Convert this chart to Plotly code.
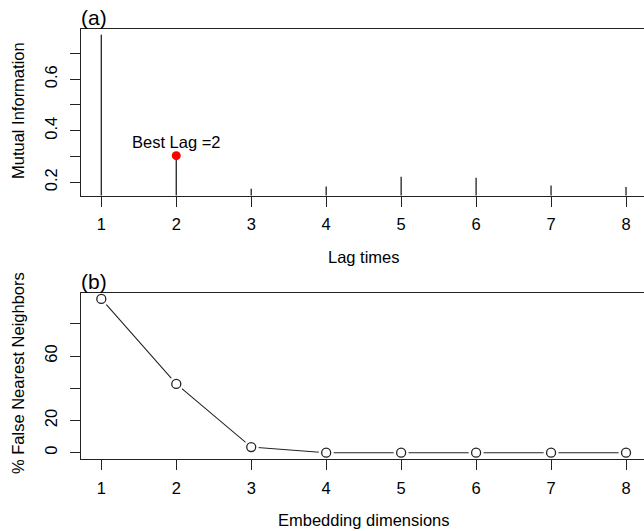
import plotly.graph_objects as go

# Panel (a): average mutual information by lag
lags = [1, 2, 3, 4, 5, 6, 7, 8]
mutual_info = [0.7725, 0.303, 0.1745, 0.183, 0.221, 0.217, 0.187, 0.181]
best_lag = 2

# Panel (b): false nearest neighbours by embedding dimension
dims = [1, 2, 3, 4, 5, 6, 7, 8]
fnn_pct = [95.4, 42.7, 3.5, 0.0, 0.0, 0.0, 0.0, 0.0]

mi_tickvals = [0.2, 0.3, 0.4, 0.5, 0.6, 0.7]
mi_ticktext = ["0.2", "", "0.4", "", "0.6", ""]
fnn_tickvals = [0, 20, 40, 60, 80]
fnn_ticktext = ["0", "20", "", "60", ""]
x_tickvals = [1, 2, 3, 4, 5, 6, 7, 8]

FONT = "Liberation Sans, Arial, sans-serif"
FS = 16.5
INK = "#222222"
W, H = 644, 531

# h-type stems from zero up to each value (clipped by the plot area)
stem_x, stem_y = [], []
for lag, v in zip(lags, mutual_info):
    stem_x += [lag, lag, None]
    stem_y += [0, v, None]

best_val = mutual_info[lags.index(best_lag)]

fig = go.Figure()
fig.add_trace(go.Scatter(x=stem_x, y=stem_y, mode="lines",
                         line=dict(color=INK, width=1.3),
                         xaxis="x", yaxis="y", hoverinfo="skip"))
fig.add_trace(go.Scatter(x=[best_lag], y=[best_val], mode="markers",
                         marker=dict(color="#ff0000", size=9, line=dict(width=0)),
                         xaxis="x", yaxis="y"))

# b-type line: segments with gaps around the open circles
fig.add_trace(go.Scatter(x=dims, y=fnn_pct, mode="lines",
                         line=dict(color=INK, width=1.1),
                         xaxis="x2", yaxis="y2", hoverinfo="skip"))
fig.add_trace(go.Scatter(x=dims, y=fnn_pct, mode="markers",
                         marker=dict(color="white", size=15, line=dict(width=0)),
                         xaxis="x2", yaxis="y2", hoverinfo="skip"))
fig.add_trace(go.Scatter(x=dims, y=fnn_pct, mode="markers",
                         marker=dict(symbol="circle-open", color=INK, size=9,
                                     line=dict(width=1.3)),
                         xaxis="x2", yaxis="y2"))

left_px, right_px = 81, 644
px_per_unit = 74.96
x0 = 1 - (101.3 - left_px) / px_per_unit
x1 = x0 + (right_px - left_px) / px_per_unit


def ydom(top_px, bot_px):
    return [(H - bot_px) / H, (H - top_px) / H]


common_x = dict(range=[x0, x1], tickvals=x_tickvals, ticks="outside", ticklen=10,
                tickwidth=1.1, tickcolor=INK, showline=True, linecolor=INK,
                linewidth=1.1, mirror=True, showgrid=False, zeroline=False,
                tickfont=dict(family=FONT, size=FS, color="black"),
                ticklabelstandoff=4)
common_y = dict(ticks="outside", ticklen=10, tickwidth=1.1, tickcolor=INK,
                showline=True, linecolor=INK, linewidth=1.1, mirror=False,
                showgrid=False, zeroline=False, tickangle=-90,
                tickfont=dict(family=FONT, size=FS, color="black"),
                ticklabelstandoff=6)

top_dom = ydom(29, 195.5)
bot_dom = ydom(293, 459.3)

fig.update_layout(
    width=W, height=H, margin=dict(l=left_px, r=0, t=0, b=0),
    paper_bgcolor="white", plot_bgcolor="white", showlegend=False,
    xaxis=dict(common_x, anchor="y"),
    yaxis=dict(common_y, domain=top_dom, range=[0.1485, 0.7946],
               tickvals=mi_tickvals, ticktext=mi_ticktext, anchor="x"),
    xaxis2=dict(common_x, anchor="y2"),
    yaxis2=dict(common_y, domain=bot_dom, range=[-4.1, 99.1],
                tickvals=fnn_tickvals, ticktext=fnn_ticktext, anchor="x2"),
)


def ann(text, xpx, ypx, angle=0, xanchor="center", yanchor="middle", size=FS):
    fig.add_annotation(text=text, xref="paper", yref="paper",
                       x=(xpx - left_px) / (right_px - left_px), y=(H - ypx) / H,
                       xanchor=xanchor, yanchor=yanchor, showarrow=False,
                       textangle=angle,
                       font=dict(family=FONT, size=size, color="black"))


ann("(a)", 79, 31, xanchor="left", yanchor="bottom", size=21)
ann("(b)", 79, 294.5, xanchor="left", yanchor="bottom", size=21)
ann("Lag times", 364, 257)
ann("Embedding dimensions", 364, 520)
ann("Mutual Information", 18, 111, angle=-90)
ann("% False Nearest Neighbors", 18, 373, angle=-90)

fig.add_annotation(text=f"Best Lag ={best_lag}", x=best_lag, y=best_val,
                   xref="x", yref="y", showarrow=False, yshift=14,
                   font=dict(family=FONT, size=FS, color="black"))

fig.write_html("out.html")
